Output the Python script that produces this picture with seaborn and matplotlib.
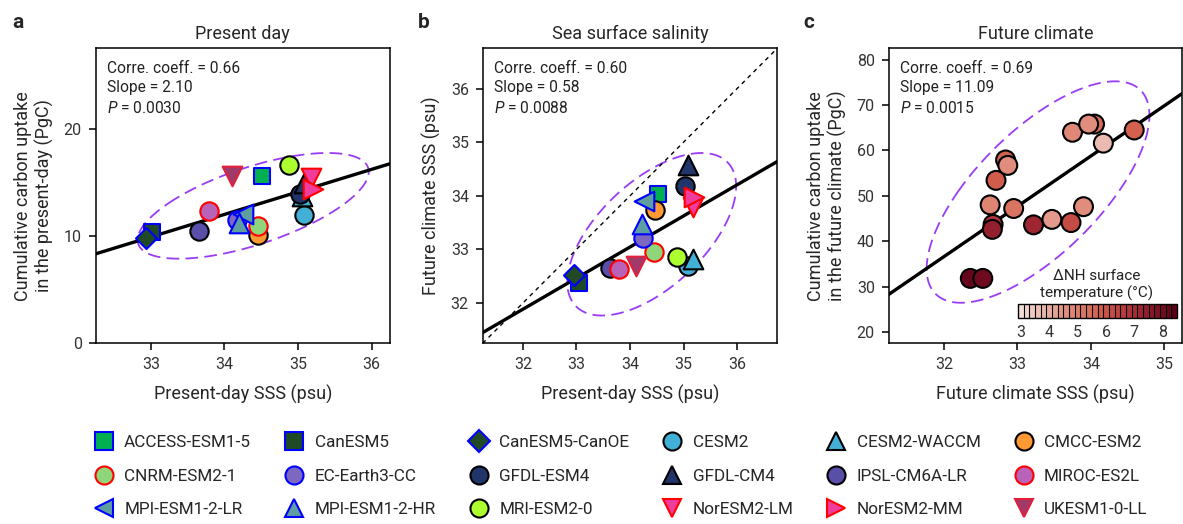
import numpy as np
import matplotlib
matplotlib.use("Agg")
import matplotlib.pyplot as plt
import seaborn as sns
from matplotlib.lines import Line2D
from matplotlib.colors import LinearSegmentedColormap, BoundaryNorm, Normalize
import matplotlib.cm as mcm

# ---------------- data ----------------
models = ["ACCESS-ESM1-5", "CanESM5", "CanESM5-CanOE", "CESM2", "CESM2-WACCM", "CMCC-ESM2",
          "CNRM-ESM2-1", "EC-Earth3-CC", "GFDL-ESM4", "GFDL-CM4", "IPSL-CM6A-LR", "MIROC-ES2L",
          "MPI-ESM1-2-LR", "MPI-ESM1-2-HR", "MRI-ESM2-0", "NorESM2-LM", "NorESM2-MM", "UKESM1-0-LL"]

# panel a: present-day SSS vs present-day cumulative carbon uptake
pd_sss = [34.51, 33.02, 32.94, 35.08, 35.05, 34.46, 34.46, 34.17, 35.02, 35.08, 33.65, 33.79,
          34.25, 34.20, 34.88, 35.17, 35.20, 34.10]
pd_uptake = [15.6, 10.36, 9.8, 11.97, 13.7, 10.1, 10.9, 11.45, 13.9, 14.9, 10.5, 12.3,
             12.07, 11.2, 16.6, 15.43, 14.34, 15.55]

# panel b: present-day SSS vs future-climate SSS
pd_sss_b = [34.52, 33.04, 32.95, 35.08, 35.17, 34.47, 34.45, 34.24, 35.02, 35.08, 33.63, 33.80,
            34.26, 34.22, 34.88, 35.17, 35.20, 34.12]
fut_sss_b = [34.03, 32.37, 32.53, 32.69, 32.83, 33.73, 32.95, 33.22, 34.19, 34.57, 32.66, 32.63,
             33.90, 33.47, 32.86, 33.80, 33.97, 32.69]

# panel c: future-climate SSS vs future cumulative carbon uptake, coloured by NH warming
fc_sss = [32.36, 32.53, 32.67, 32.66, 32.63, 32.71, 32.84, 32.87, 32.95, 33.22, 33.47, 33.73,
          33.90, 33.75, 34.05, 33.97, 34.17, 34.59]
fc_uptake = [31.8, 31.8, 43.7, 42.6, 48.0, 53.4, 57.9, 56.7, 47.2, 43.6, 44.8, 44.1,
             47.6, 64.0, 65.8, 65.8, 61.6, 64.5]
fc_dT = [8.3, 8.1, 6.8, 7.4, 4.8, 5.8, 5.7, 4.6, 5.2, 7.2, 4.3, 6.2,
         4.6, 4.7, 5.4, 4.6, 3.6, 5.7]

# regression lines (slope, intercept)
reg_a = [2.10, -59.385]
reg_b = [0.58, 13.325]
reg_c = [11.09, -318.3]
one_to_one = [1.0, 0.0]

stats_a = ["0.66", "2.10", "0.0030"]
stats_b = ["0.60", "0.58", "0.0088"]
stats_c = ["0.69", "11.09", "0.0015"]

cbar_ticks = [3, 4, 5, 6, 7, 8]

# ---------------- styles ----------------
mk = ["s", "s", "D", "o", "^", "o", "o", "o", "o", "^", "o", "o", "<", "^", "o", "v", ">", "v"]
fc = ["#00b050", "#1f4a25", "#1f4a25", "#41afd6", "#41afd6", "#ff9933", "#8fd67a", "#7d68c0",
      "#22356b", "#22356b", "#5a4fa8", "#b862b8", "#5f9ea0", "#5f9ea0", "#adff2f", "#f03c9c",
      "#f03c9c", "#a03a6a"]
ec = ["#0000ff", "#0000ff", "#0000ff", "black", "black", "black", "#ff0000", "#0000ff",
      "black", "black", "black", "#ff0000", "#0000ff", "#0000ff", "black", "#ff0000",
      "#ff0000", "#e0203c"]
sizes = {"o": 175, "s": 140, "D": 115, "^": 200, "v": 200, "<": 200, ">": 200}

sns.set_theme(style="ticks")
plt.rcParams["font.family"] = ["Roboto", "DejaVu Sans"]
plt.rcParams["axes.edgecolor"] = "black"
plt.rcParams["axes.linewidth"] = 1.1
plt.rcParams["xtick.color"] = "black"
plt.rcParams["ytick.color"] = "black"
plt.rcParams["xtick.labelcolor"] = "#333333"
plt.rcParams["ytick.labelcolor"] = "#333333"
plt.rcParams["mathtext.fontset"] = "custom"
plt.rcParams["mathtext.it"] = "Roboto:italic"
plt.rcParams["mathtext.rm"] = "Roboto"

PURPLE = "#9b3cf5"
cmap = LinearSegmentedColormap.from_list(
    "nh", ["#f3ddd7", "#e8b0a4", "#de8574", "#d4604e", "#b83a3c", "#8c1a2c", "#5c0016"])
bounds = np.arange(2.9, 8.51, 0.2)

fig = plt.figure(figsize=(11.83, 5.24), dpi=100)
W, H = 1183, 524


def add_ax(l, r, t, b):
    return fig.add_axes([l / W, 1 - b / H, (r - l) / W, (b - t) / H])


axa = add_ax(95.7, 390, 48.3, 343.3)
axb = add_ax(482.7, 777.3, 48.3, 343.3)
axc = add_ax(888.7, 1182, 48.3, 343.3)


def conf_ellipse(ax, x, y, scale=5.0):
    x = np.asarray(x); y = np.asarray(y)
    cov = np.cov(x, y)
    vals, vecs = np.linalg.eigh(cov)
    t = np.linspace(0, 2 * np.pi, 300)
    circ = np.stack([np.cos(t), np.sin(t)])
    pts = vecs @ (np.sqrt(vals * scale)[:, None] * circ)
    ax.plot(x.mean() + pts[0], y.mean() + pts[1], color=PURPLE, lw=1.3,
            ls=(0, (7, 3.5)), zorder=1)


def stats_text(ax, s):
    ax.text(0.04, 0.958, f"Corre. coeff. = {s[0]}\nSlope = {s[1]}\n$P$ = {s[2]}",
            transform=ax.transAxes, ha="left", va="top", fontsize=11.2,
            linespacing=1.38, color="#222222")


def model_scatter(ax, xs, ys):
    for i in range(len(models)):
        sns.scatterplot(x=[xs[i]], y=[ys[i]], marker=mk[i], color=fc[i], edgecolor=ec[i],
                        linewidth=1.5, s=sizes[mk[i]], ax=ax, legend=False, zorder=3)


LAB = 13

# ---- panel a
axa.set_xlim(32.25, 36.25)
axa.set_ylim(0, 27.5)
axa.axline((0, reg_a[1]), slope=reg_a[0], color="black", lw=2.4, zorder=2)
conf_ellipse(axa, pd_sss, pd_uptake)
model_scatter(axa, pd_sss, pd_uptake)
axa.set_xticks([33, 34, 35, 36])
axa.set_yticks([0, 10, 20])
axa.set_xlabel("Present-day SSS (psu)", fontsize=LAB, labelpad=9)
axa.set_ylabel("Cumulative carbon uptake\nin the present-day (PgC)", fontsize=LAB, labelpad=7)
axa.set_title("Present day", fontsize=LAB, pad=7)
stats_text(axa, stats_a)

# ---- panel b
axb.set_xlim(31.25, 36.75)
axb.set_ylim(31.25, 36.75)
axb.axline((0, one_to_one[1]), slope=one_to_one[0], color="black", lw=1.0,
           ls=(0, (3, 3)), zorder=2)
axb.axline((0, reg_b[1]), slope=reg_b[0], color="black", lw=2.4, zorder=2)
conf_ellipse(axb, pd_sss_b, fut_sss_b)
model_scatter(axb, pd_sss_b, fut_sss_b)
axb.set_xticks([32, 33, 34, 35, 36])
axb.set_yticks([32, 33, 34, 35, 36])
axb.set_xlabel("Present-day SSS (psu)", fontsize=LAB, labelpad=9)
axb.set_ylabel("Future climate SSS (psu)", fontsize=LAB, labelpad=7)
axb.set_title("Sea surface salinity", fontsize=LAB, pad=7)
stats_text(axb, stats_b)

# ---- panel c
axc.set_xlim(31.25, 35.24)
axc.set_ylim(17.5, 82.5)
axc.axline((0, reg_c[1]), slope=reg_c[0], color="black", lw=2.4, zorder=2)
conf_ellipse(axc, fc_sss, fc_uptake)
sns.scatterplot(x=fc_sss, y=fc_uptake, hue=fc_dT, palette=cmap, hue_norm=Normalize(2.9, 8.5),
                s=185, edgecolor="black", linewidth=1.5, ax=axc, legend=False, zorder=3)
axc.set_xticks([32, 33, 34, 35])
axc.set_yticks([20, 30, 40, 50, 60, 70, 80])
axc.set_xlabel("Future climate SSS (psu)", fontsize=LAB, labelpad=9)
axc.set_ylabel("Cumulative carbon uptake\nin the future climate (PgC)", fontsize=LAB, labelpad=7)
axc.set_title("Future climate", fontsize=LAB, pad=7)
stats_text(axc, stats_c)

for ax in (axa, axb, axc):
    ax.tick_params(axis="both", direction="out", length=5, width=1.1, labelsize=11.5, pad=5,
                   top=False, right=False)
    for sp in ax.spines.values():
        sp.set_visible(True)
        sp.set_color("black")

# colour bar
cax = add_ax(1018, 1177, 304, 318)
sm = mcm.ScalarMappable(norm=BoundaryNorm(bounds, cmap.N), cmap=cmap)
cb = fig.colorbar(sm, cax=cax, orientation="horizontal", drawedges=True, ticks=cbar_ticks)
cb.outline.set_linewidth(1.0)
cb.dividers.set_linewidth(0.8)
cb.dividers.set_color("black")
cb.minorticks_off()
cax.tick_params(which="both", length=0, labelsize=11.5, pad=5)
fig.text(1097 / W, 1 - 285 / H, "ΔNH surface\ntemperature (°C)", ha="center", va="center",
         fontsize=11, linespacing=1.2, color="#222222")

# panel letters
for x, l in [(12, "a"), (418, "b"), (803, "c")]:
    fig.text(x / W, 1 - 22 / H, l, fontsize=15, fontweight="bold", ha="left", va="center")

# legend
handles = [Line2D([], [], ls="none", marker=mk[i], markerfacecolor=fc[i], markeredgecolor=ec[i],
                  markeredgewidth=1.5, markersize=13 if mk[i] != "D" else 11) for i in range(18)]
order = [r * 6 + c for c in range(6) for r in range(3)]
fig.legend([handles[i] for i in order], [models[i] for i in order], ncol=6,
           loc="upper left", bbox_to_anchor=(84 / W, 1 - 428 / H), frameon=False,
           fontsize=12.3, handletextpad=0.45, columnspacing=1.76, labelspacing=1.1,
           handlelength=1.5, borderaxespad=0)

fig.savefig("out.png", dpi=100)
